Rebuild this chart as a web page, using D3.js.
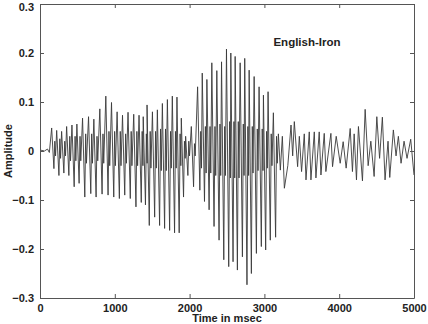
<!DOCTYPE html>
<meta charset="utf-8">
<body style="margin:0;background:#fff">
<style>
text { font-family: "Liberation Sans", Arial, Helvetica, sans-serif; font-weight: bold; fill: #222; }
.tick line, .domain { stroke: #555; }
</style>
<script src="https://d3js.org/d3.v7.min.js"></script>
<script>
// waveform
var onset = [[0, 0.002], [60, 0.0], [100, 0.004], [125, -0.003]];

// voiced pulses: peak time (ms), peak, trough, two small ripples after the trough
var pulseMs = [156, 223, 289, 356, 427, 493, 569, 649, 720, 800, 880, 956, 1031, 1103, 1177, 1253, 1324, 1380,
  1431, 1503, 1569, 1636, 1703, 1769, 1831, 1889, 1947, 2023,
  2107, 2169, 2231, 2297, 2364, 2427, 2493, 2551, 2609, 2676, 2737, 2796, 2863, 2929, 2987, 3049, 3120];
var pulseHi = [.047, .042, .040, .050, .053, .055, .067, .070, .065, .086, .112, .099, .080, .073, .079, .075, .073, .070,
  .094, .080, .084, .097, .105, .112, .110, .067, .030, .050,
  .131, .159, .146, .180, .164, .182, .208, .200, .193, .180, .189, .165, .152, .131, .114, .121, .078];
var pulseLo = [-.036, -.050, -.045, -.050, -.073, -.066, -.094, -.087, -.094, -.088, -.090, -.094, -.097, -.090, -.097, -.114, -.105, -.110,
  -.152, -.135, -.152, -.158, -.162, -.167, -.167, -.094, -.050, -.073,
  -.080, -.103, -.120, -.154, -.182, -.222, -.236, -.226, -.243, -.216, -.273, -.250, -.209, -.195, -.202, -.182, -.176];
var pulseRip = [.02, .025, .02, .03, .03, .03, .035, .035, .03, .035, .04, .04, .04, .035, .04, .04, .04, .035,
  .04, .04, .045, .045, .04, .04, .035, .02, .02, .015,
  .04, .05, .05, .05, .055, .05, .06, .06, .06, .055, .05, .05, .045, .045, .04, .035, .03];
var pulseRip2 = [-.01, -.015, -.01, -.02, -.02, -.02, -.025, -.025, -.02, -.025, -.03, -.03, -.03, -.025, -.03, -.03, -.03, -.025,
  -.035, -.035, -.04, -.04, -.035, -.035, -.03, -.015, -.01, -.01,
  -.035, -.045, -.045, -.05, -.05, -.05, -.055, -.055, -.055, -.05, -.05, -.045, -.04, -.04, -.035, -.03, -.025];

// unvoiced tail after ~3.2 s
var tailMs = [3187, 3213, 3240, 3267, 3313, 3356, 3378, 3400, 3444, 3467, 3497, 3533, 3556, 3600, 3622, 3667, 3689,
  3733, 3756, 3800, 3822, 3889, 3911, 3960, 4013, 4053, 4093, 4147, 4177, 4200, 4231, 4257, 4311, 4347, 4387,
  4423, 4467, 4503, 4540, 4577, 4613, 4653, 4676, 4724, 4760, 4791, 4827, 4867, 4907, 4956, 5000];
var tailAmp = [.035, -.039, .030, -.076, -.030, .053, -.010, .060, -.032, .030, -.042, .035, -.059, .039, -.059, .039, -.055,
  .039, -.049, .036, -.042, .036, -.032, .030, -.025, .019, -.035, .046, -.042, .035, -.059, .050, -.061, .085, -.030,
  .020, -.052, .070, -.015, .069, -.059, .020, -.054, .043, -.010, .030, -.025, .020, -.015, .024, -.049];

var xTicks = [0, 1000, 2000, 3000, 4000, 5000];
var yTicks = [-0.3, -0.2, -0.1, 0, 0.1, 0.2, 0.3];

var W = 428, H = 324;
var m = {left: 40, right: 14, top: 4, bottom: 26};

var svg = d3.select("body").append("svg")
    .attr("width", W)
    .attr("height", H);

var x = d3.scaleLinear().domain([0, 5000]).range([m.left, W - m.right]);
var y = d3.scaleLinear().domain([-0.3, 0.3]).range([H - m.bottom, m.top]);

// assemble samples
var pts = onset.slice();
pulseMs.forEach(function(t, i) {
  pts.push([t, pulseHi[i]]);
  pts.push([t + 30, pulseLo[i]]);
  pts.push([t + 42, pulseRip[i]]);
  pts.push([t + 52, pulseRip2[i]]);
});
tailMs.forEach(function(t, i) { pts.push([t, tailAmp[i]]); });

var line = d3.line().x(function(d) { return x(d[0]); }).y(function(d) { return y(d[1]); });

svg.append("path")
    .datum(pts)
    .attr("fill", "none")
    .attr("stroke", "#3a3a3a")
    .attr("stroke-width", 0.9)
    .attr("stroke-linejoin", "round")
    .attr("d", line);

var fmt = function(d) { return d === 0 ? "0" : d3.format(".1f")(d); };

svg.append("g").attr("transform", "translate(0," + (H - m.bottom) + ")")
    .call(d3.axisBottom(x).tickValues(xTicks).tickSizeInner(-4).tickSizeOuter(0).tickPadding(6).tickFormat(d3.format("d")))
    .call(function(g) { g.selectAll("text").style("font-size", "11px"); });
svg.append("g").attr("transform", "translate(0," + m.top + ")")
    .call(d3.axisTop(x).tickValues(xTicks).tickSizeInner(-4).tickSizeOuter(0).tickFormat(""));
svg.append("g").attr("transform", "translate(" + m.left + ",0)")
    .call(d3.axisLeft(y).tickValues(yTicks).tickSizeInner(-4).tickSizeOuter(0).tickPadding(6).tickFormat(fmt))
    .call(function(g) {
      g.selectAll("text").style("font-size", "11px");
      g.selectAll(".tick").filter(function(d) { return d === 0.3; }).select("text").attr("dy", "0.62em");
    });
svg.append("g").attr("transform", "translate(" + (W - m.right) + ",0)")
    .call(d3.axisRight(y).tickValues(yTicks).tickSizeInner(-4).tickSizeOuter(0).tickFormat(""));

svg.selectAll(".tick text").attr("fill", "#222");

svg.append("text")
    .attr("x", (x(0) + x(5000)) / 2)
    .attr("y", H - 2)
    .attr("text-anchor", "middle")
    .style("font-size", "11px")
    .text("Time in msec");

svg.append("text")
    .attr("transform", "translate(12," + y(0) + ") rotate(-90)")
    .attr("text-anchor", "middle")
    .style("font-size", "11px")
    .text("Amplitude");

svg.append("text")
    .attr("x", 307)
    .attr("y", 46)
    .attr("text-anchor", "middle")
    .style("font-size", "11.5px")
    .text("English-Iron");
</script>
</body>
